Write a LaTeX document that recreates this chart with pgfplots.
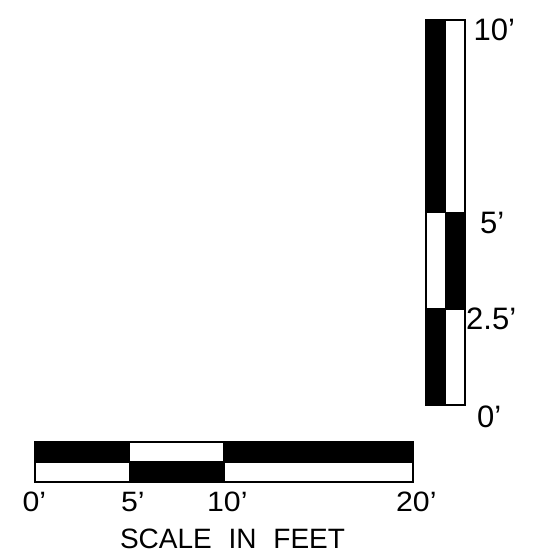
\documentclass[border=0pt]{standalone}
\usepackage{pgfplots}
\pgfplotsset{compat=1.18}
\usepackage{fontspec}
\setmainfont{Liberation Sans}
\newfontfamily\hfont[FakeStretch=1.08]{Liberation Sans}
\newfontfamily\vfont{Liberation Sans}
\begin{document}
\begin{tikzpicture}
\path[use as bounding box] (0,0) rectangle (533bp,558bp);
% horizontal scale bar (feet 0..20)
\begin{axis}[at={(35bp,76bp)}, anchor=south west, scale only axis,
  width=378bp, height=40bp, xmin=0, xmax=20, ymin=0, ymax=2,
  hide axis, clip=false]
\addplot[fill=black, draw=black, line width=1.6bp] coordinates {(0,1) (5,1) (5,2) (0,2)} --cycle;
\addplot[fill=white, draw=black, line width=1.6bp] coordinates {(5,1) (10,1) (10,2) (5,2)} --cycle;
\addplot[fill=black, draw=black, line width=1.6bp] coordinates {(10,1) (20,1) (20,2) (10,2)} --cycle;
\addplot[fill=white, draw=black, line width=1.6bp] coordinates {(0,0) (5,0) (5,1) (0,1)} --cycle;
\addplot[fill=black, draw=black, line width=1.6bp] coordinates {(5,0) (10,0) (10,1) (5,1)} --cycle;
\addplot[fill=white, draw=black, line width=1.6bp] coordinates {(10,0) (20,0) (20,1) (10,1)} --cycle;
\node[anchor=north, inner sep=0pt, font=\hfont\fontsize{28bp}{34bp}\selectfont, xshift=-4bp, yshift=-10bp] at (axis cs:0,0) {0\rlap{’}};
\node[anchor=north, inner sep=0pt, font=\hfont\fontsize{28bp}{34bp}\selectfont, yshift=-10bp] at (axis cs:5,0) {5\rlap{’}};
\node[anchor=north, inner sep=0pt, font=\hfont\fontsize{28bp}{34bp}\selectfont, yshift=-10bp] at (axis cs:10,0) {10\rlap{’}};
\node[anchor=north, inner sep=0pt, font=\hfont\fontsize{28bp}{34bp}\selectfont, yshift=-10bp] at (axis cs:20,0) {20\rlap{’}};
\node[anchor=north, inner sep=0pt, font=\vfont\fontsize{28bp}{34bp}\selectfont, yshift=-47bp] at (axis cs:10.45,0) {SCALE\hspace{0.6em}IN\hspace{0.6em}FEET};
\end{axis}
% vertical scale bar (feet 0..10)
\begin{axis}[at={(426bp,153bp)}, anchor=south west, scale only axis,
  width=39bp, height=385bp, xmin=0, xmax=2, ymin=0, ymax=10,
  hide axis, clip=false]
\addplot[fill=black, draw=black, line width=1.6bp] coordinates {(0,0) (1,0) (1,2.5) (0,2.5)} --cycle;
\addplot[fill=white, draw=black, line width=1.6bp] coordinates {(0,2.5) (1,2.5) (1,5) (0,5)} --cycle;
\addplot[fill=black, draw=black, line width=1.6bp] coordinates {(0,5) (1,5) (1,10) (0,10)} --cycle;
\addplot[fill=white, draw=black, line width=1.6bp] coordinates {(1,0) (2,0) (2,2.5) (1,2.5)} --cycle;
\addplot[fill=black, draw=black, line width=1.6bp] coordinates {(1,2.5) (2,2.5) (2,5) (1,5)} --cycle;
\addplot[fill=white, draw=black, line width=1.6bp] coordinates {(1,5) (2,5) (2,10) (1,10)} --cycle;
\node[anchor=north west, inner sep=0pt, font=\vfont\fontsize{31bp}{37bp}\selectfont, xshift=8.5bp, yshift=1bp] at (axis cs:2,10) {10’};
\node[anchor=north west, inner sep=0pt, font=\vfont\fontsize{31bp}{37bp}\selectfont, xshift=15bp, yshift=1bp] at (axis cs:2,5) {5’};
\node[anchor=north west, inner sep=0pt, font=\vfont\fontsize{31bp}{37bp}\selectfont, xshift=1bp, yshift=1bp] at (axis cs:2,2.5) {2.5’};
\node[anchor=north west, inner sep=0pt, font=\vfont\fontsize{31bp}{37bp}\selectfont, xshift=12bp, yshift=-1bp] at (axis cs:2,0) {0’};
\end{axis}
\end{tikzpicture}
\end{document}
